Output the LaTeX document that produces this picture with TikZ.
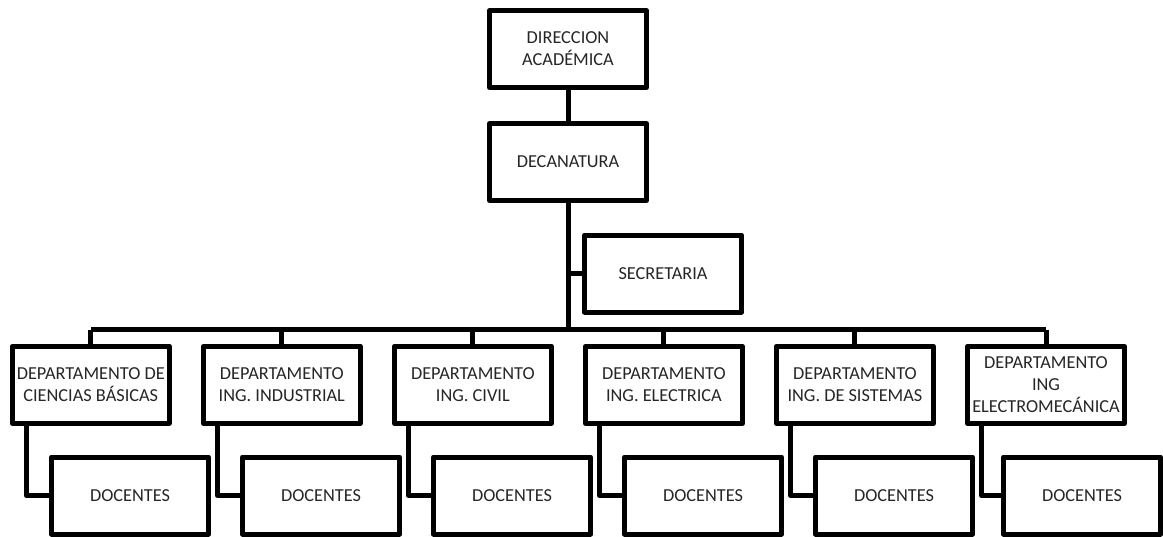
\documentclass[tikz,border=0pt]{standalone}
\usepackage{fontspec}
\setmainfont{Carlito}
\begin{document}
\begin{tikzpicture}[x=1pt,y=-1pt,
  box/.style={draw=black, line width=5pt, line join=round, fill=white,
    minimum width=157pt, minimum height=77pt, inner sep=0pt, align=center,
    font=\fontsize{18.3pt}{22pt}\selectfont, text=black!85},
  link/.style={draw=black, line width=5pt, line join=round}]
\useasboundingbox (0,0) rectangle (1163,536);
% top
\node[box] (dir) at (568,49) {DIRECCION\\ACADÉMICA};
\node[box] (dec) at (568,162) {DECANATURA};
\node[box] (sec) at (663,273.5) {SECRETARIA};
\coordinate (bus) at (568,329.5);
% departments
\node[box] (d1) at (90.75,384.75) {DEPARTAMENTO DE\\CIENCIAS BÁSICAS};
\node[box] (d2) at (281.8,384.75) {DEPARTAMENTO\\ING. INDUSTRIAL};
\node[box] (d3) at (472.85,384.75) {DEPARTAMENTO\\ING. CIVIL};
\node[box] (d4) at (663.9,384.75) {DEPARTAMENTO\\ING. ELECTRICA};
\node[box] (d5) at (854.95,384.75) {DEPARTAMENTO\\ING. DE SISTEMAS};
\node[box] (d6) at (1046,384.75) {DEPARTAMENTO\\ING\\ELECTROMECÁNICA};
% docentes
\node[box] (c1) at (130,495.5) {DOCENTES};
\node[box] (c2) at (321,495.5) {DOCENTES};
\node[box] (c3) at (512,495.5) {DOCENTES};
\node[box] (c4) at (703,495.5) {DOCENTES};
\node[box] (c5) at (894,495.5) {DOCENTES};
\node[box] (c6) at (1082,495.5) {DOCENTES};
% connectors
\draw[link] (dir.south) -- (dec.north);
\draw[link] (dec.south) -- (bus);
\draw[link] (dec.south |- sec.west) -- (sec.west);
\draw[link] (d1.north |- bus) -- (d6.north |- bus);
\foreach \i in {1,...,6}{
  \draw[link] (d\i.north |- bus) -- (d\i.north);
  \draw[link] ([xshift=16.5pt]d\i.south west) |- (c\i.west);
}
\end{tikzpicture}
\end{document}
